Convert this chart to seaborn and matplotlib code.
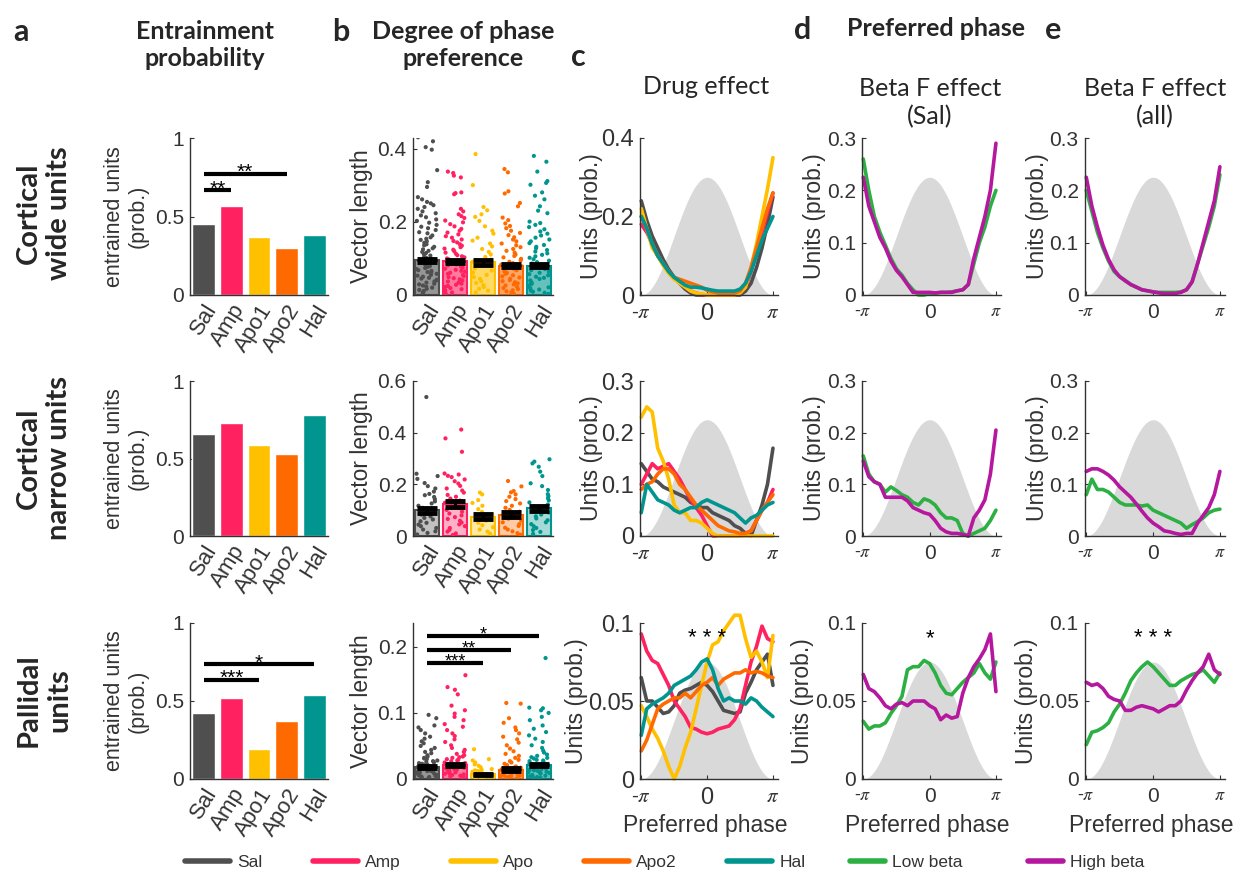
import numpy as np
import pandas as pd
import matplotlib
matplotlib.use("Agg")
import matplotlib.pyplot as plt
import seaborn as sns
from matplotlib.lines import Line2D
from matplotlib.colors import to_rgba
from matplotlib.ticker import FuncFormatter

sns.set_theme(style="white")
plt.rcParams["font.family"] = ["Liberation Sans", "DejaVu Sans"]
plt.rcParams["mathtext.fontset"] = "stix"

W, H = 1240, 882

# ---------------- data ----------------
groups = ["Sal", "Amp", "Apo1", "Apo2", "Hal"]
legend_drugs = ["Sal", "Amp", "Apo", "Apo2", "Hal"]
drug_colors = ["#4F4F4F", "#FF2160", "#FFC000", "#FF6A00", "#00968F"]
beta_groups = ["Low beta", "High beta"]
beta_colors = ["#2DB043", "#B5179E"]

# panel a: entrainment probability
entrain_wide = [0.45, 0.57, 0.37, 0.30, 0.38]
entrain_narrow = [0.66, 0.73, 0.59, 0.53, 0.78]
entrain_pallidal = [0.42, 0.52, 0.19, 0.37, 0.54]

# panel b: vector length means / sem
vl_mean_wide = [0.095, 0.092, 0.090, 0.080, 0.080]
vl_sem_wide = [0.004, 0.004, 0.007, 0.004, 0.004]
vl_mean_narrow = [0.100, 0.123, 0.075, 0.083, 0.108]
vl_sem_narrow = [0.010, 0.012, 0.010, 0.008, 0.010]
vl_mean_pallidal = [0.018, 0.021, 0.007, 0.014, 0.021]
vl_sem_pallidal = [0.002, 0.002, 0.001, 0.002, 0.002]

# panel b: individual units (vector length)
wide_sal = [0.432, 0.421, 0.405, 0.398, 0.342, 0.309, 0.296, 0.268, 0.262, 0.255, 0.251, 0.246, 0.241, 0.236, 0.229, 0.224, 0.218, 0.213, 0.207, 0.203, 0.198, 0.192, 0.187, 0.183, 0.178, 0.172, 0.169, 0.163, 0.158, 0.154, 0.151, 0.147, 0.143, 0.139, 0.136, 0.132, 0.128, 0.125, 0.121, 0.118, 0.115, 0.112, 0.108, 0.105, 0.102, 0.099, 0.096, 0.093, 0.091, 0.088, 0.085, 0.082, 0.079, 0.077, 0.074, 0.071, 0.068, 0.066, 0.063, 0.061, 0.058, 0.055, 0.053, 0.050, 0.047, 0.045, 0.042, 0.040, 0.037, 0.034, 0.031, 0.029, 0.026, 0.023, 0.020, 0.017, 0.014, 0.011, 0.008, 0.005]
wide_amp = [0.338, 0.334, 0.327, 0.322, 0.281, 0.279, 0.276, 0.236, 0.229, 0.221, 0.216, 0.211, 0.204, 0.199, 0.194, 0.188, 0.181, 0.176, 0.171, 0.166, 0.161, 0.157, 0.152, 0.148, 0.144, 0.139, 0.135, 0.131, 0.127, 0.124, 0.120, 0.116, 0.113, 0.109, 0.106, 0.103, 0.100, 0.097, 0.094, 0.090, 0.087, 0.084, 0.081, 0.078, 0.075, 0.072, 0.069, 0.066, 0.064, 0.061, 0.058, 0.055, 0.052, 0.049, 0.046, 0.043, 0.040, 0.037, 0.034, 0.031, 0.028, 0.025, 0.022, 0.019, 0.016, 0.013, 0.010, 0.007, 0.004]
wide_apo1 = [0.386, 0.301, 0.241, 0.232, 0.221, 0.214, 0.203, 0.188, 0.176, 0.168, 0.157, 0.149, 0.141, 0.133, 0.126, 0.118, 0.111, 0.104, 0.097, 0.091, 0.085, 0.079, 0.073, 0.067, 0.061, 0.055, 0.049, 0.044, 0.038, 0.033, 0.027, 0.022, 0.017, 0.012, 0.007]
wide_apo2 = [0.345, 0.336, 0.284, 0.278, 0.252, 0.243, 0.212, 0.205, 0.196, 0.189, 0.183, 0.176, 0.170, 0.164, 0.158, 0.152, 0.147, 0.141, 0.136, 0.131, 0.126, 0.121, 0.116, 0.111, 0.107, 0.103, 0.099, 0.095, 0.091, 0.087, 0.083, 0.079, 0.075, 0.072, 0.068, 0.065, 0.061, 0.058, 0.054, 0.051, 0.048, 0.044, 0.041, 0.038, 0.035, 0.032, 0.029, 0.026, 0.022, 0.019, 0.016, 0.013, 0.010, 0.007, 0.004]
wide_hal = [0.381, 0.365, 0.338, 0.312, 0.307, 0.302, 0.281, 0.272, 0.262, 0.243, 0.231, 0.224, 0.201, 0.197, 0.192, 0.186, 0.180, 0.174, 0.168, 0.163, 0.157, 0.152, 0.147, 0.142, 0.137, 0.132, 0.128, 0.123, 0.119, 0.114, 0.110, 0.106, 0.102, 0.098, 0.094, 0.090, 0.086, 0.082, 0.079, 0.075, 0.071, 0.068, 0.064, 0.061, 0.057, 0.054, 0.050, 0.047, 0.044, 0.040, 0.037, 0.034, 0.031, 0.027, 0.024, 0.021, 0.018, 0.015, 0.012, 0.009, 0.006, 0.003]

narrow_sal = [0.538, 0.241, 0.232, 0.221, 0.205, 0.193, 0.184, 0.172, 0.163, 0.158, 0.151, 0.143, 0.134, 0.126, 0.117, 0.109, 0.102, 0.096, 0.089, 0.083, 0.076, 0.070, 0.064, 0.057, 0.051, 0.044, 0.038, 0.031, 0.025, 0.018, 0.012, 0.006]
narrow_amp = [0.412, 0.378, 0.326, 0.242, 0.238, 0.233, 0.228, 0.219, 0.212, 0.203, 0.194, 0.184, 0.176, 0.168, 0.159, 0.152, 0.145, 0.137, 0.129, 0.122, 0.115, 0.108, 0.101, 0.094, 0.087, 0.080, 0.073, 0.066, 0.059, 0.052, 0.045, 0.038, 0.031, 0.024, 0.017, 0.010, 0.004]
narrow_apo1 = [0.168, 0.161, 0.139, 0.128, 0.117, 0.104, 0.093, 0.084, 0.076, 0.068, 0.059, 0.051, 0.042, 0.034, 0.025, 0.017, 0.009]
narrow_apo2 = [0.213, 0.192, 0.174, 0.169, 0.161, 0.152, 0.143, 0.135, 0.126, 0.117, 0.109, 0.101, 0.094, 0.088, 0.081, 0.074, 0.067, 0.060, 0.053, 0.046, 0.039, 0.032, 0.025, 0.018, 0.011, 0.005]
narrow_hal = [0.297, 0.288, 0.281, 0.268, 0.249, 0.232, 0.204, 0.193, 0.178, 0.162, 0.154, 0.146, 0.138, 0.130, 0.122, 0.114, 0.106, 0.099, 0.091, 0.083, 0.076, 0.068, 0.061, 0.053, 0.046, 0.038, 0.031, 0.023, 0.016, 0.008]

pall_sal = [0.097, 0.092, 0.081, 0.078, 0.074, 0.069, 0.064, 0.061, 0.057, 0.054, 0.050, 0.047, 0.044, 0.041, 0.039, 0.036, 0.034, 0.032, 0.030, 0.028, 0.027, 0.025, 0.024, 0.022, 0.021, 0.019, 0.018, 0.017, 0.016, 0.014, 0.013, 0.012, 0.011, 0.010, 0.009, 0.008, 0.007, 0.006, 0.005, 0.004, 0.003, 0.002, 0.001, 0.031, 0.026, 0.023, 0.020, 0.015, 0.012, 0.009, 0.006, 0.003]
pall_amp = [0.157, 0.139, 0.135, 0.128, 0.111, 0.104, 0.099, 0.094, 0.089, 0.083, 0.079, 0.074, 0.069, 0.065, 0.060, 0.056, 0.051, 0.047, 0.044, 0.041, 0.038, 0.036, 0.034, 0.032, 0.030, 0.028, 0.027, 0.025, 0.024, 0.022, 0.021, 0.019, 0.018, 0.017, 0.015, 0.014, 0.013, 0.011, 0.010, 0.009, 0.008, 0.006, 0.005, 0.004, 0.002, 0.033, 0.029, 0.023, 0.016, 0.012, 0.007, 0.003]
pall_apo1 = [0.045, 0.030, 0.028, 0.025, 0.022, 0.020, 0.018, 0.015, 0.014, 0.013, 0.012, 0.011, 0.010, 0.009, 0.008, 0.007, 0.006, 0.005, 0.004, 0.003, 0.002, 0.001, 0.012, 0.009, 0.006, 0.004]
pall_apo2 = [0.115, 0.114, 0.092, 0.085, 0.078, 0.074, 0.069, 0.064, 0.060, 0.055, 0.051, 0.046, 0.042, 0.038, 0.035, 0.032, 0.029, 0.027, 0.025, 0.023, 0.021, 0.019, 0.017, 0.016, 0.014, 0.013, 0.012, 0.011, 0.010, 0.009, 0.008, 0.007, 0.006, 0.005, 0.004, 0.003, 0.002, 0.001, 0.018, 0.015, 0.011, 0.008, 0.005, 0.002]
pall_hal = [0.183, 0.108, 0.107, 0.104, 0.100, 0.094, 0.089, 0.081, 0.076, 0.071, 0.066, 0.061, 0.056, 0.051, 0.047, 0.043, 0.040, 0.037, 0.035, 0.033, 0.031, 0.029, 0.027, 0.026, 0.024, 0.023, 0.021, 0.020, 0.019, 0.017, 0.016, 0.015, 0.013, 0.012, 0.011, 0.010, 0.009, 0.008, 0.006, 0.005, 0.004, 0.003, 0.002, 0.001, 0.032, 0.028, 0.022, 0.018, 0.014, 0.009, 0.005]

# phase histograms (25 bins from -pi to pi)
n_bins = 25
# c: drug effect
c_wide_sal = [0.24, 0.19, 0.15, 0.12, 0.09, 0.065, 0.045, 0.03, 0.015, 0.005, 0, 0, 0, 0, 0, 0, 0, 0, 0, 0.01, 0.03, 0.07, 0.12, 0.18, 0.25]
c_wide_amp = [0.18, 0.16, 0.13, 0.10, 0.08, 0.06, 0.045, 0.035, 0.02, 0.01, 0.005, 0, 0, 0, 0, 0, 0, 0, 0.005, 0.02, 0.06, 0.11, 0.16, 0.21, 0.26]
c_wide_apo = [0.22, 0.17, 0.12, 0.10, 0.075, 0.055, 0.04, 0.03, 0.02, 0.01, 0.005, 0.003, 0, 0, 0, 0, 0, 0, 0.005, 0.02, 0.07, 0.13, 0.20, 0.27, 0.35]
c_wide_apo2 = [0.20, 0.17, 0.13, 0.10, 0.08, 0.06, 0.045, 0.04, 0.035, 0.03, 0.025, 0.02, 0.012, 0.008, 0.005, 0.003, 0.003, 0.005, 0.01, 0.03, 0.07, 0.12, 0.17, 0.22, 0.26]
c_wide_hal = [0.20, 0.17, 0.13, 0.10, 0.08, 0.06, 0.045, 0.035, 0.025, 0.02, 0.02, 0.018, 0.015, 0.012, 0.01, 0.01, 0.01, 0.01, 0.015, 0.03, 0.06, 0.10, 0.14, 0.17, 0.20]

c_narrow_sal = [0.14, 0.125, 0.11, 0.105, 0.095, 0.09, 0.085, 0.08, 0.075, 0.065, 0.06, 0.055, 0.055, 0.045, 0.04, 0.035, 0.03, 0.02, 0.015, 0.005, 0.0, 0.03, 0.06, 0.10, 0.17]
c_narrow_amp = [0.10, 0.12, 0.14, 0.13, 0.135, 0.14, 0.125, 0.11, 0.09, 0.07, 0.055, 0.04, 0.02, 0.0, 0, 0, 0, 0, 0, 0.005, 0.01, 0.03, 0.05, 0.065, 0.09]
c_narrow_apo = [0.23, 0.25, 0.24, 0.17, 0.145, 0.11, 0.06, 0.045, 0.045, 0.03, 0.03, 0.025, 0.015, 0.005, 0, 0, 0, 0, 0, 0, 0, 0, 0, 0, 0]
c_narrow_apo2 = [0.09, 0.10, 0.105, 0.12, 0.13, 0.13, 0.12, 0.10, 0.09, 0.075, 0.06, 0.05, 0.04, 0.03, 0.02, 0.015, 0.01, 0.008, 0.005, 0.005, 0.01, 0.03, 0.05, 0.065, 0.08]
c_narrow_hal = [0.045, 0.10, 0.085, 0.07, 0.065, 0.06, 0.05, 0.045, 0.05, 0.055, 0.055, 0.065, 0.07, 0.065, 0.06, 0.055, 0.05, 0.045, 0.035, 0.025, 0.035, 0.04, 0.05, 0.06, 0.065]

c_pall_sal = [0.065, 0.05, 0.05, 0.046, 0.042, 0.043, 0.047, 0.055, 0.057, 0.058, 0.06, 0.062, 0.06, 0.056, 0.05, 0.044, 0.043, 0.042, 0.043, 0.055, 0.062, 0.07, 0.075, 0.08, 0.06]
c_pall_amp = [0.093, 0.082, 0.076, 0.074, 0.067, 0.06, 0.05, 0.045, 0.04, 0.033, 0.032, 0.03, 0.029, 0.03, 0.032, 0.033, 0.034, 0.038, 0.045, 0.06, 0.075, 0.085, 0.098, 0.09, 0.088]
c_pall_apo = [0.047, 0.04, 0.032, 0.026, 0.018, 0.008, 0.0, 0.008, 0.02, 0.03, 0.045, 0.06, 0.075, 0.086, 0.088, 0.095, 0.10, 0.105, 0.105, 0.09, 0.078, 0.082, 0.075, 0.065, 0.092]
c_pall_apo2 = [0.018, 0.025, 0.035, 0.045, 0.048, 0.05, 0.052, 0.052, 0.055, 0.052, 0.056, 0.06, 0.062, 0.065, 0.06, 0.064, 0.066, 0.068, 0.068, 0.07, 0.068, 0.069, 0.068, 0.066, 0.065]
c_pall_hal = [0.028, 0.045, 0.048, 0.05, 0.052, 0.055, 0.06, 0.062, 0.064, 0.066, 0.07, 0.075, 0.077, 0.07, 0.058, 0.05, 0.052, 0.05, 0.05, 0.048, 0.052, 0.05, 0.046, 0.043, 0.04]

# d: beta effect (Sal)
d_wide_low = [0.26, 0.20, 0.15, 0.12, 0.095, 0.07, 0.05, 0.038, 0.022, 0.01, 0.0, 0.0, 0.003, 0.003, 0.005, 0.005, 0.006, 0.008, 0.01, 0.02, 0.06, 0.10, 0.13, 0.17, 0.20]
d_wide_high = [0.225, 0.17, 0.14, 0.11, 0.09, 0.065, 0.047, 0.035, 0.02, 0.005, 0.005, 0.005, 0.005, 0.004, 0.005, 0.005, 0.005, 0.008, 0.01, 0.02, 0.07, 0.11, 0.15, 0.20, 0.29]
d_narrow_low = [0.155, 0.12, 0.105, 0.10, 0.085, 0.095, 0.088, 0.08, 0.075, 0.065, 0.06, 0.072, 0.068, 0.06, 0.045, 0.035, 0.035, 0.03, 0.005, 0.0, 0.005, 0.01, 0.015, 0.03, 0.05]
d_narrow_high = [0.145, 0.115, 0.105, 0.10, 0.075, 0.075, 0.075, 0.075, 0.068, 0.055, 0.05, 0.045, 0.042, 0.03, 0.015, 0.008, 0.005, 0.005, 0.003, 0.0, 0.035, 0.05, 0.07, 0.12, 0.205]
d_pall_low = [0.037, 0.032, 0.034, 0.034, 0.036, 0.042, 0.047, 0.053, 0.07, 0.072, 0.072, 0.076, 0.074, 0.068, 0.06, 0.055, 0.054, 0.058, 0.062, 0.065, 0.068, 0.074, 0.068, 0.064, 0.075]
d_pall_high = [0.067, 0.058, 0.056, 0.052, 0.047, 0.045, 0.048, 0.049, 0.047, 0.05, 0.05, 0.05, 0.047, 0.045, 0.038, 0.041, 0.039, 0.04, 0.055, 0.065, 0.072, 0.077, 0.083, 0.093, 0.056]

# e: beta effect (all)
e_wide_low = [0.20, 0.16, 0.12, 0.09, 0.065, 0.045, 0.035, 0.028, 0.02, 0.015, 0.01, 0.008, 0.006, 0.005, 0.005, 0.005, 0.005, 0.006, 0.01, 0.025, 0.06, 0.095, 0.13, 0.17, 0.23]
e_wide_high = [0.225, 0.17, 0.13, 0.095, 0.068, 0.048, 0.035, 0.027, 0.02, 0.015, 0.01, 0.008, 0.006, 0.004, 0.003, 0.003, 0.003, 0.005, 0.01, 0.025, 0.06, 0.10, 0.14, 0.18, 0.245]
e_narrow_low = [0.08, 0.11, 0.09, 0.09, 0.085, 0.075, 0.065, 0.06, 0.06, 0.06, 0.058, 0.06, 0.05, 0.045, 0.04, 0.035, 0.03, 0.025, 0.015, 0.022, 0.028, 0.035, 0.045, 0.05, 0.052]
e_narrow_high = [0.125, 0.13, 0.13, 0.125, 0.118, 0.108, 0.095, 0.085, 0.075, 0.062, 0.048, 0.035, 0.025, 0.018, 0.01, 0.008, 0.005, 0.003, 0.005, 0.005, 0.025, 0.04, 0.055, 0.08, 0.125]
e_pall_low = [0.022, 0.03, 0.031, 0.033, 0.036, 0.043, 0.048, 0.055, 0.063, 0.068, 0.072, 0.075, 0.072, 0.068, 0.064, 0.06, 0.06, 0.063, 0.065, 0.067, 0.068, 0.07, 0.066, 0.062, 0.068]
e_pall_high = [0.062, 0.06, 0.061, 0.058, 0.053, 0.051, 0.05, 0.044, 0.044, 0.046, 0.047, 0.046, 0.045, 0.043, 0.045, 0.047, 0.047, 0.05, 0.057, 0.063, 0.068, 0.072, 0.08, 0.07, 0.067]

# ---------------- layout helpers ----------------
fig = plt.figure(figsize=(W / 100, H / 100), dpi=100)
AX_COL = "#333333"


def add_ax(x0, x1, ytop, ybot):
    return fig.add_axes([x0 / W, 1 - ybot / H, (x1 - x0) / W, (ybot - ytop) / H])


def ftext(x, y, s, **kw):
    fig.text(x / W, 1 - y / H, s, **kw)


def style_ax(ax, tick_size=15):
    sns.despine(ax=ax)
    for sp in ("left", "bottom"):
        ax.spines[sp].set_color(AX_COL)
        ax.spines[sp].set_linewidth(1.0)
    ax.tick_params(direction="in", length=3, width=0.8, colors=AX_COL, labelsize=tick_size,
                   left=True, bottom=True)
    ax.tick_params(axis="y", pad=4.5)
    ax.yaxis.set_major_formatter(FuncFormatter(lambda v, p: f"{v:g}"))
    ax.set_facecolor("none")


rows_y = [(138, 295), (381, 536), (623, 779)]
cols_x = {"a": (190, 328), "b": (413, 553), "c": (640, 778), "d": (862, 1001), "e": (1085, 1225)}


def sig(ax, x0, x1, y, stars, fs=15, lw=3):
    ax.plot([x0, x1], [y, y], color="black", lw=lw, solid_capstyle="butt", zorder=6)
    ax.annotate(stars, xy=((x0 + x1) / 2, y), xytext=(0, 1.0), textcoords="offset points",
                ha="center", va="center", fontsize=fs, color="black", zorder=7)


def rotate_xlabels(ax):
    ax.tick_params(axis="x", length=0, labelsize=16, pad=4)
    for lab in ax.get_xticklabels():
        lab.set_rotation(58)
        lab.set_ha("right")
        lab.set_rotation_mode("anchor")


# ---------------- column a ----------------
entrain_rows = [entrain_wide, entrain_narrow, entrain_pallidal]
sig_a = [[(0, 1, 0.667, "**"), (0, 3, 0.773, "**")], [], [(0, 2, 0.634, "***"), (0, 4, 0.735, "*")]]
for r, vals in enumerate(entrain_rows):
    ax = add_ax(*cols_x["a"], *rows_y[r])
    df = pd.DataFrame({"group": groups, "prob": vals})
    sns.barplot(data=df, x="group", y="prob", hue="group", palette=drug_colors, order=groups,
                hue_order=groups, width=0.82, saturation=1, legend=False, ax=ax)
    style_ax(ax)
    ax.set_ylim(0, 1)
    ax.set_xlim(-0.5, 4.5)
    ax.set_yticks([0, 0.5, 1])
    ax.set_xlabel("")
    ax.set_ylabel("entrained units\n(prob.)", fontsize=15.5, color=AX_COL, va="center", linespacing=1.2)
    ax.yaxis.set_label_coords(-0.46, 0.5)
    rotate_xlabels(ax)
    for (x0, x1, y, st) in sig_a[r]:
        sig(ax, x0, x1, y, st)

# ---------------- column b ----------------
vl_means = [vl_mean_wide, vl_mean_narrow, vl_mean_pallidal]
vl_sems = [vl_sem_wide, vl_sem_narrow, vl_sem_pallidal]
vl_points = [
    [wide_sal, wide_amp, wide_apo1, wide_apo2, wide_hal],
    [narrow_sal, narrow_amp, narrow_apo1, narrow_apo2, narrow_hal],
    [pall_sal, pall_amp, pall_apo1, pall_apo2, pall_hal],
]
b_ylims = [0.43, 0.6, 0.236]
b_yticks = [[0, 0.2, 0.4], [0, 0.2, 0.4, 0.6], [0, 0.1, 0.2]]
b_alpha = [0.6, 0.35, 0.6]
sig_b = [[], [], [(0, 2, 0.175, "***"), (0, 3, 0.195, "**"), (0, 4, 0.216, "*")]]
np.random.seed(7)
for r in range(3):
    ax = add_ax(*cols_x["b"], *rows_y[r])
    dfm = pd.DataFrame({"group": groups, "vl": vl_means[r]})
    sns.barplot(data=dfm, x="group", y="vl", hue="group", palette=drug_colors, order=groups,
                hue_order=groups, width=0.86, saturation=1, legend=False, ax=ax, zorder=1)
    for p, c in zip(ax.patches, drug_colors):
        p.set_facecolor(to_rgba(c, b_alpha[r]))
        p.set_edgecolor(c)
        p.set_linewidth(1.5)
    pts = pd.DataFrame({
        "group": np.concatenate([[g] * len(v) for g, v in zip(groups, vl_points[r])]),
        "vl": np.concatenate(vl_points[r]),
    })
    sns.stripplot(data=pts, x="group", y="vl", hue="group", palette=drug_colors, order=groups,
                  hue_order=groups, jitter=0.38, size=3.0, legend=False, ax=ax, zorder=3,
                  linewidth=0)
    ax.errorbar(range(5), vl_means[r], yerr=vl_sems[r], fmt="none", ecolor="black",
                elinewidth=2.2, capsize=7, capthick=3.5, zorder=5)
    style_ax(ax)
    ax.set_ylim(0, b_ylims[r])
    ax.set_xlim(-0.5, 4.5)
    ax.set_yticks(b_yticks[r])
    ax.set_xlabel("")
    ax.set_ylabel("Vector length", fontsize=16.5, color=AX_COL, va="center")
    ax.yaxis.set_label_coords(-0.37, 0.5)
    rotate_xlabels(ax)
    for (x0, x1, y, st) in sig_b[r]:
        sig(ax, x0, x1, y, st, fs=13)

# ---------------- columns c, d, e ----------------
phase = np.linspace(-np.pi, np.pi, n_bins)
wave_x = np.linspace(-np.pi, np.pi, 300)
wave_shape = (1 + np.cos(wave_x)) / 2


def phase_panel(ax, curves, names, colors, ymax, yticks, bottom, stars, tick_size, ylab_x):
    ax.fill_between(wave_x, 0, 0.75 * ymax * wave_shape, color="#D9D9D9", lw=0, zorder=0)
    df = pd.DataFrame({
        "phase": np.tile(phase, len(curves)),
        "value": np.concatenate(curves),
        "group": np.repeat(names, n_bins),
    })
    sns.lineplot(data=df, x="phase", y="value", hue="group", hue_order=names, palette=colors,
                 lw=2.6, legend=False, ax=ax, errorbar=None, zorder=2)
    for ln in ax.get_lines():
        ln.set_clip_on(False)
    style_ax(ax, tick_size)
    ax.tick_params(axis="x", pad=6)
    ax.set_xlim(-np.pi - 0.06, np.pi + 0.24)
    ax.set_ylim(0, ymax)
    ax.set_yticks(yticks)
    ax.set_xticks([-np.pi, 0, np.pi])
    ax.set_xticklabels(["-$\\pi$", "0", "$\\pi$"])
    ax.get_xticklabels()[0].set_fontsize(tick_size - 2)
    ax.get_xticklabels()[2].set_fontsize(tick_size - 2)
    ax.set_ylabel("Units (prob.)", fontsize=16.5, color=AX_COL, va="center")
    ax.yaxis.set_label_coords(ylab_x, 0.5)
    if bottom:
        ax.set_xlabel("Preferred phase", fontsize=16.5, color=AX_COL, va="center")
        ax.xaxis.set_label_coords(0.47, -0.30)
    else:
        ax.set_xlabel("")
    if stars:
        ax.text(0, 0.9 * ymax, stars, ha="center", va="center", fontsize=16, color="black")


c_rows = [
    [c_wide_sal, c_wide_amp, c_wide_apo, c_wide_apo2, c_wide_hal],
    [c_narrow_sal, c_narrow_amp, c_narrow_apo, c_narrow_apo2, c_narrow_hal],
    [c_pall_sal, c_pall_amp, c_pall_apo, c_pall_apo2, c_pall_hal],
]
d_rows = [[d_wide_low, d_wide_high], [d_narrow_low, d_narrow_high], [d_pall_low, d_pall_high]]
e_rows = [[e_wide_low, e_wide_high], [e_narrow_low, e_narrow_high], [e_pall_low, e_pall_high]]
c_ymax = [0.4, 0.3, 0.1]
c_ticks = [[0, 0.2, 0.4], [0, 0.1, 0.2, 0.3], [0, 0.05, 0.1]]
de_ymax = [0.3, 0.3, 0.1]
de_ticks = [[0, 0.1, 0.2, 0.3], [0, 0.1, 0.2, 0.3], [0, 0.05, 0.1]]
c_stars = [None, None, "* * *"]
d_stars = [None, None, "*"]
e_stars = [None, None, "* * *"]
c_ylab = [-0.35, -0.35, -0.46]
d_ylab = [-0.34, -0.34, -0.43]
e_ylab = [-0.34, -0.34, -0.42]

for r in range(3):
    ax = add_ax(*cols_x["c"], *rows_y[r])
    phase_panel(ax, c_rows[r], legend_drugs, drug_colors, c_ymax[r], c_ticks[r], r == 2, c_stars[r], 17, c_ylab[r])
    ax = add_ax(*cols_x["d"], *rows_y[r])
    phase_panel(ax, d_rows[r], beta_groups, beta_colors, de_ymax[r], de_ticks[r], r == 2, d_stars[r], 15, d_ylab[r])
    ax = add_ax(*cols_x["e"], *rows_y[r])
    phase_panel(ax, e_rows[r], beta_groups, beta_colors, de_ymax[r], de_ticks[r], r == 2, e_stars[r], 15, e_ylab[r])

# ---------------- texts ----------------
HDR = ["Lato", "DejaVu Sans"]
for letter, x, y in [("a", 21, 32), ("b", 341, 32), ("c", 578, 57), ("d", 803, 30), ("e", 1053, 30)]:
    ftext(x, y, letter, fontsize=22, fontweight="bold", ha="center", va="center", family=HDR)

ftext(205, 45, "Entrainment\nprobability", fontsize=18, fontweight="bold", ha="center", va="center",
      family=HDR, linespacing=1.25)
ftext(463, 45, "Degree of phase\npreference", fontsize=18, fontweight="bold", ha="center", va="center",
      family=HDR, linespacing=1.25)
ftext(936, 28, "Preferred phase", fontsize=18, fontweight="bold", ha="center", va="center", family=HDR)
ftext(706, 86, "Drug effect", fontsize=18, ha="center", va="center", family=HDR)
ftext(930, 103, "Beta F effect\n(Sal)", fontsize=18, ha="center", va="center", family=HDR, linespacing=1.25)
ftext(1155, 103, "Beta F effect\n(all)", fontsize=18, ha="center", va="center", family=HDR, linespacing=1.25)

for lab, y in [("Cortical\nwide units", 213), ("Cortical\nnarrow units", 458), ("Pallidal\nunits", 700)]:
    ftext(44, y, lab, fontsize=21, fontweight="bold", rotation=90, ha="center", va="center",
          family=HDR, linespacing=1.2, multialignment="center")

# ---------------- legends ----------------
LEG_FONT = ["Liberation Sans Narrow", "Liberation Sans", "DejaVu Sans"]
drug_handles = [Line2D([0], [0], color=c, lw=4) for c in drug_colors]
leg1 = fig.legend(drug_handles, legend_drugs, loc="center left", bbox_to_anchor=(185 / W, 1 - 862 / H),
                  ncol=5, frameon=False, borderaxespad=0, borderpad=0, handlelength=2.6,
                  handletextpad=0.4, columnspacing=2.9, prop={"family": LEG_FONT, "size": 12.5})
beta_handles = [Line2D([0], [0], color=c, lw=4) for c in beta_colors]
leg2 = fig.legend(beta_handles, beta_groups, loc="center left", bbox_to_anchor=(850 / W, 1 - 862 / H),
                  ncol=2, frameon=False, borderaxespad=0, borderpad=0, handlelength=2.0,
                  handletextpad=0.4, columnspacing=3.8, prop={"family": LEG_FONT, "size": 12.5})
for t in leg1.get_texts() + leg2.get_texts():
    t.set_color(AX_COL)

fig.savefig("out.png", dpi=100, facecolor="white")
